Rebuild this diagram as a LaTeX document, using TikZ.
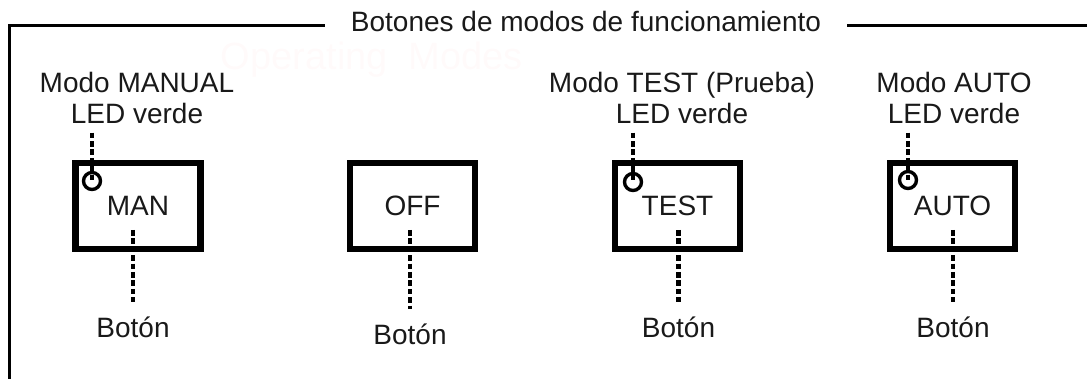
\documentclass[tikz,border=0pt]{standalone}
\usepackage{fontspec}
\setmainfont{Liberation Sans}
\usetikzlibrary{positioning,calc}

\begin{document}
\begin{tikzpicture}[
  x=0.5pt, y=-0.5pt,
  every node/.style={font=\fontsize{14}{15.5}\selectfont, text=black!90},
  modebox/.style={draw, line width=3.3pt, minimum width=62.5pt, minimum height=43pt, inner sep=0pt},
  led/.style={circle, draw, line width=1.7pt, minimum size=8.5pt, inner sep=0pt},
  leadline/.style={line width=2.3pt, dash pattern=on 2.8pt off 1.4pt},
  toplabel/.style={align=center, anchor=base, inner sep=4pt},
  btnlabel/.style={anchor=base, inner sep=0pt},
  frameline/.style={line width=1.5pt},
]
\useasboundingbox (0,0) rectangle (1087,379);

% === Frame with title ===
\node[inner xsep=13pt, anchor=base] (title) at (586,32) {Botones de modos de funcionamiento};
\coordinate (corner) at (9,26);
\draw[frameline] (9,379) -- (corner) -- (corner -| title.west);
\draw[frameline] (title.east |- corner) -- (1087,26);
\node[font=\fontsize{19}{20}\selectfont, text=red!2, anchor=base] (ghost) at (372,70) {Operating\ \ Modes};

% === Mode buttons ===
\node[modebox] (man) at (138,206) {MAN};
\node[modebox] (off) at (412.5,206) {OFF};
\node[modebox] (test) at (677.5,206) {TEST};
\node[modebox] (auto) at (952.5,206) {AUTO};

% === LEDs ===
\node[led] (ledman) at (92,181) {};
\node[led] (ledtest) at (633,182) {};
\node[led] (ledauto) at (908,180) {};

% === Upper labels (base = last line) ===
\node[toplabel] (lblman) at (137,124) {Modo MANUAL\\LED verde};
\node[toplabel] (lbltest) at (682,124) {Modo TEST (Prueba)\\LED verde};
\node[toplabel] (lblauto) at (954,124) {Modo AUTO\\LED verde};

\draw[leadline] (ledman |- lblman.south) -- (ledman.center);
\draw[leadline] (ledtest |- lbltest.south) -- (ledtest.center);
\draw[leadline] (ledauto |- lblauto.south) -- (ledauto.center);

% === Lower labels ===
\node[btnlabel] (btnman) at (133,337) {Botón};
\node[btnlabel] (btnoff) at (410,344) {Botón};
\node[btnlabel] (btntest) at (678.5,337) {Botón};
\node[btnlabel] (btnauto) at (953,337) {Botón};

\draw[leadline] ([yshift=-12pt]btnman.north |- man.center) -- ([yshift=7pt]btnman.north);
\draw[leadline] ([yshift=-12pt]btnoff.north |- off.center) -- ([yshift=7pt]btnoff.north);
\draw[leadline] ([yshift=-12pt]btntest.north |- test.center) -- ([yshift=7pt]btntest.north);
\draw[leadline] ([yshift=-12pt]btnauto.north |- auto.center) -- ([yshift=7pt]btnauto.north);

\end{tikzpicture}
\end{document}
